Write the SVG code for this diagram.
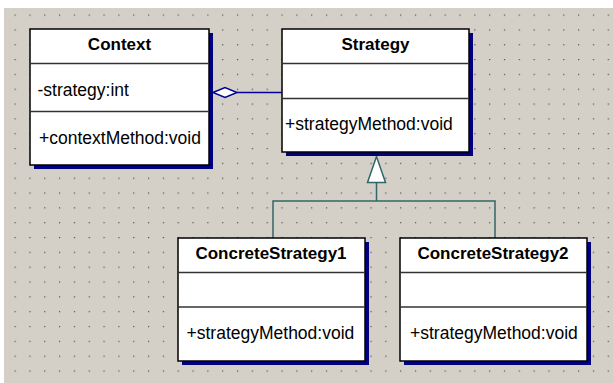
<svg xmlns="http://www.w3.org/2000/svg" width="613" height="383" viewBox="0 0 613 383">
<style>
.bg{fill:#d4d0c8}
.shadow{fill:#000080}
.box{fill:#ffffff;stroke:#000000;stroke-width:1.5}
.div{stroke:#333333;stroke-width:1.5}
.t{font-family:"Liberation Sans",Arial,sans-serif;font-size:17.5px;fill:#000000}
.h{font-family:"Liberation Sans",Arial,sans-serif;font-size:17px;font-weight:bold;fill:#000000;text-anchor:middle}
.agg{stroke:#000099;stroke-width:1.5;fill:none}
.gen{stroke:#336666;stroke-width:1.5;fill:none}
</style>
<defs>
<pattern id="dots" patternUnits="userSpaceOnUse" x="14.5" y="14.5" width="14.83" height="14.83">
<rect x="0" y="0" width="1.2" height="1.2" fill="#505050"/>
</pattern>
</defs>
<rect x="0" y="0" width="613" height="383" fill="#ffffff"/>
<rect class="bg" x="4" y="8" width="609" height="375"/>
<rect x="4" y="8" width="609" height="375" fill="url(#dots)"/>

<g id="connectors">
<line class="agg" x1="237" y1="92.5" x2="282" y2="92.5"/>
<polygon class="agg" points="213,92.5 225,87.5 237,92.5 225,97.5" fill="#ffffff" style="fill:#ffffff"/>
<polyline class="gen" points="273,238 273,201 495,201 495,238"/>
<line class="gen" x1="376.5" y1="182.5" x2="376.5" y2="201"/>
<polygon class="gen" points="376.5,156.5 367.5,182.5 385.5,182.5" style="fill:#ffffff"/>
</g>

<g id="context">
<rect class="shadow" x="34" y="33" width="179" height="136"/>
<rect class="box" x="30" y="29" width="179" height="136"/>
<line class="div" x1="30" y1="63.5" x2="209" y2="63.5"/>
<line class="div" x1="30" y1="111.5" x2="209" y2="111.5"/>
<text class="h" x="119.5" y="50">Context</text>
<text class="t" x="37.5" y="96">-strategy:int</text>
<text class="t" x="39" y="143.5">+contextMethod:void</text>
</g>

<g id="strategy">
<rect class="shadow" x="286" y="33" width="187" height="123"/>
<rect class="box" x="282" y="29" width="187" height="123"/>
<line class="div" x1="282" y1="63.5" x2="469" y2="63.5"/>
<line class="div" x1="282" y1="98.5" x2="469" y2="98.5"/>
<text class="h" x="375.5" y="50">Strategy</text>
<text class="t" x="285" y="130">+strategyMethod:void</text>
</g>

<g id="concrete1">
<rect class="shadow" x="182" y="242" width="187" height="123"/>
<rect class="box" x="178" y="238" width="187" height="123"/>
<line class="div" x1="178" y1="272.5" x2="365" y2="272.5"/>
<line class="div" x1="178" y1="307" x2="365" y2="307"/>
<text class="h" x="271" y="258.5">ConcreteStrategy1</text>
<text class="t" x="186.5" y="338.5">+strategyMethod:void</text>
</g>

<g id="concrete2">
<rect class="shadow" x="404" y="242" width="187" height="123"/>
<rect class="box" x="400" y="238" width="187" height="123"/>
<line class="div" x1="400" y1="272.5" x2="587" y2="272.5"/>
<line class="div" x1="400" y1="307" x2="587" y2="307"/>
<text class="h" x="493" y="258.5">ConcreteStrategy2</text>
<text class="t" x="410" y="338.5">+strategyMethod:void</text>
</g>
</svg>
